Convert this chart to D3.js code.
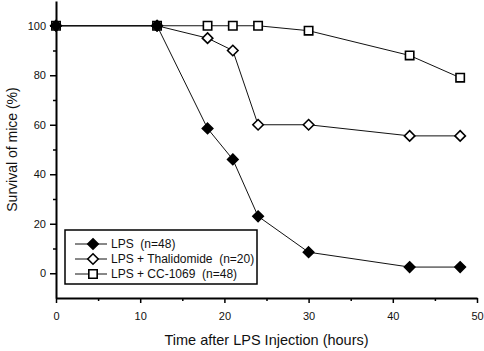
<!DOCTYPE html>
<html>
<head>
<meta charset="utf-8">
<script src="https://cdn.jsdelivr.net/npm/d3@7"></script>
<style>
  body { margin: 0; background: #fff; }
  svg { display: block; font-family: "Liberation Sans", Arial, sans-serif; }
</style>
</head>
<body>
<div id="chart"></div>
<script>
// data
const hours = [0, 12, 18, 21, 24, 30, 42, 48];
const lps = [100, 100, 58.5, 46, 23, 8.5, 2.5, 2.5];
const thalidomide = [100, 100, 95, 90, 60, 60, 55.5, 55.5];
const cc1069 = [100, 100, 100, 100, 100, 98, 88, 79];
const seriesNames = ["LPS  (n=48)", "LPS + Thalidomide  (n=20)", "LPS + CC-1069  (n=48)"];
const xTicks = [0, 10, 20, 30, 40, 50];
const yTicks = [0, 20, 40, 60, 80, 100];

const width = 484, height = 351;
const margin = {top: 1, right: 7, bottom: 53, left: 56};
const w = width - margin.left - margin.right,
      h = height - margin.top - margin.bottom;

const svg = d3.select("#chart").append("svg")
    .attr("width", width)
    .attr("height", height);

const g = svg.append("g")
    .attr("transform", `translate(${margin.left},${margin.top})`);

const x = d3.scaleLinear().domain([0, 50]).range([0, w]);
const y = d3.scaleLinear().domain([-10, 110]).range([h, 0]);

// x axis with minor ticks
const xAxis = g.append("g")
    .attr("transform", `translate(0,${h})`)
    .call(d3.axisBottom(x).tickValues(xTicks).tickSize(5).tickSizeOuter(0));
g.append("g")
    .attr("transform", `translate(0,${h})`)
    .call(d3.axisBottom(x).tickValues(d3.range(5, 50, 10)).tickSize(3).tickFormat(""))
    .select(".domain").remove();

// y axis with minor ticks
const yAxis = g.append("g")
    .call(d3.axisLeft(y).tickValues(yTicks).tickSize(6).tickSizeOuter(0));
g.append("g")
    .call(d3.axisLeft(y).tickValues(d3.range(10, 110, 20)).tickSize(3).tickFormat(""))
    .select(".domain").remove();

g.selectAll(".domain").attr("stroke", "#000").attr("stroke-width", 2);
g.selectAll(".tick line").attr("stroke", "#000").attr("stroke-width", 1.5);
xAxis.selectAll("text").attr("font-size", 11).attr("fill", "#111").attr("dy", "1.3em");
yAxis.selectAll("text").attr("font-size", 11).attr("fill", "#111").attr("x", -10);

// axis titles
svg.append("text")
    .attr("x", margin.left + w / 2)
    .attr("y", 345)
    .attr("text-anchor", "middle")
    .attr("font-size", 14.5)
    .attr("fill", "#111")
    .text("Time after LPS Injection (hours)");

svg.append("text")
    .attr("transform", `translate(17,${y(50) + margin.top}) rotate(-90)`)
    .attr("text-anchor", "middle")
    .attr("font-size", 14)
    .attr("fill", "#111")
    .text("Survival of mice (%)");

const diamond = d3.symbol().type(d3.symbolDiamond2).size(70);
const square = d3.symbol().type(d3.symbolSquare).size(70);

const series = [
  {name: seriesNames[0], values: lps, shape: diamond, fill: "#000"},
  {name: seriesNames[1], values: thalidomide, shape: diamond, fill: "#fff"},
  {name: seriesNames[2], values: cc1069, shape: square, fill: "#fff"}
];

const line = d3.line()
    .x((d, i) => x(hours[i]))
    .y(d => y(d));

// draw back to front so the filled LPS markers sit on top
const order = [2, 1, 0];
order.forEach(k => {
  const s = series[k];
  g.append("path")
      .attr("d", line(s.values))
      .attr("fill", "none")
      .attr("stroke", "#111")
      .attr("stroke-width", 1);
});
order.forEach(k => {
  const s = series[k];
  g.selectAll(null)
    .data(s.values)
    .join("path")
      .attr("d", s.shape)
      .attr("transform", (d, i) => `translate(${x(hours[i])},${y(d)})`)
      .attr("fill", s.fill)
      .attr("stroke", "#000")
      .attr("stroke-width", 1.6);
});

// legend
const legend = svg.append("g").attr("transform", "translate(65,230)");
legend.append("rect")
    .attr("width", 192)
    .attr("height", 54)
    .attr("fill", "#fff")
    .attr("stroke", "#000")
    .attr("stroke-width", 1.5);

const rows = legend.selectAll("g.row")
  .data(series)
  .join("g")
    .attr("class", "row")
    .attr("transform", (d, i) => `translate(0,${14 + i * 15})`);
rows.append("line")
    .attr("x1", 10).attr("x2", 42)
    .attr("stroke", "#111").attr("stroke-width", 1);
rows.append("path")
    .attr("d", d => d.shape())
    .attr("transform", "translate(28,0)")
    .attr("fill", d => d.fill)
    .attr("stroke", "#000")
    .attr("stroke-width", 1.6);
rows.append("text")
    .attr("x", 46)
    .attr("dy", "0.35em")
    .attr("font-size", 12)
    .attr("fill", "#111")
    .style("white-space", "pre")
    .text(d => d.name);
</script>
</body>
</html>
